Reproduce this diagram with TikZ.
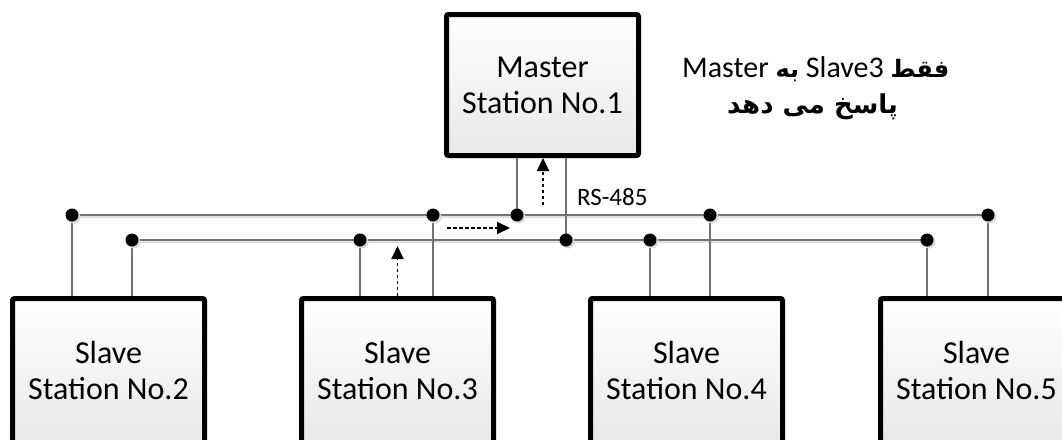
\documentclass[tikz,border=0pt]{standalone}
\usepackage{fontspec}
\setmainfont{Carlito}
\newfontfamily\farsi[Script=Arabic]{DejaVu Sans}
\TeXXeTstate=1
\usetikzlibrary{arrows.meta}
\tikzset{
  station/.style={draw=black, line width=5pt, rounded corners=2pt,
    top color=white, bottom color=black!9, minimum width=192pt,
    inner sep=0pt, align=center, font=\fontsize{32}{36}\selectfont},
  slavebox/.style={station, minimum height=145pt},
  masterbox/.style={station, minimum height=141pt},
  bus/.style={draw=black!55, line width=1.3pt,
    preaction={draw=black!12, line width=2pt, transform canvas={shift={(1.5pt,-2pt)}}}},
  tap/.style={draw=black!55, line width=1.3pt},
  junction/.style={circle, fill=black, inner sep=0pt, minimum size=13pt,
    preaction={fill=black!15, transform canvas={shift={(2pt,-2pt)}}}},
  flow/.style={draw=black, line width=1.9pt, dash pattern=on 3.5pt off 2.5pt,
    -{Triangle[length=13pt,width=12pt]}},
  note/.style={inner sep=0pt, anchor=base west},
}
\begin{document}
\begin{tikzpicture}[x=1pt,y=-1pt]
\useasboundingbox (0,0) rectangle (1062,439);

% stations
\node[masterbox] (m)  at (542.5,85)   {Master\\Station No.1};
\node[slavebox]  (s2) at (108.5,371) {Slave\\Station No.2};
\node[slavebox]  (s3) at (397.5,371) {Slave\\Station No.3};
\node[slavebox]  (s4) at (686.5,371) {Slave\\Station No.4};
\node[slavebox]  (s5) at (976.5,371) {Slave\\Station No.5};

% junction coordinates
\coordinate (u2) at (72,215);
\coordinate (u3) at (433,215);
\coordinate (um) at (517,215);
\coordinate (u4) at (710,215);
\coordinate (u5) at (988,215);
\coordinate (l2) at (132,240);
\coordinate (l3) at (360,240);
\coordinate (lm) at (566,240);
\coordinate (l4) at (650,240);
\coordinate (l5) at (927,240);

% buses
\draw[bus] (u2) -- (u5);
\draw[bus] (l2) -- (l5);

% taps
\draw[tap] (u2) -- (u2 |- s2.north);
\draw[tap] (l2) -- (l2 |- s2.north);
\draw[tap] (l3) -- (l3 |- s3.north);
\draw[tap] (u3) -- (u3 |- s3.north);
\draw[tap] (um) -- (um |- m.south);
\draw[tap] (lm) -- (lm |- m.south);
\draw[tap] (l4) -- (l4 |- s4.north);
\draw[tap] (u4) -- (u4 |- s4.north);
\draw[tap] (l5) -- (l5 |- s5.north);
\draw[tap] (u5) -- (u5 |- s5.north);

% junction dots
\foreach \p in {u2,u3,um,u4,u5,l2,l3,lm,l4,l5}
  \node[junction] (d\p) at (\p) {};

% flow arrows
\coordinate (a1s) at (543,205);
\coordinate (a2s) at (447,228);
\coordinate (a2e) at (510,228);
\coordinate (a3e) at (397.5,246);
\draw[flow] (a1s) -- (a1s |- m.south);
\draw[flow] (a2s) -- (a2e);
\draw[flow] (s3.north) -- (a3e);

% labels
\node[note, font=\fontsize{25}{28}\selectfont] (rs) at (577,205) {RS-485};
\node[note, font=\fontsize{30}{36}\selectfont] (n1) at (682,77)
  {\beginR{\farsi\bfseries\fontsize{24}{28}\selectfont فقط} \beginL Slave3\endL{} {\farsi\bfseries\fontsize{24}{28}\selectfont به} \beginL Master\endL\endR};
\node[note, font=\farsi\bfseries\fontsize{26}{30}\selectfont] (n2) at (727,113)
  {\beginR پاسخ می دهد\endR};
\end{tikzpicture}
\end{document}
